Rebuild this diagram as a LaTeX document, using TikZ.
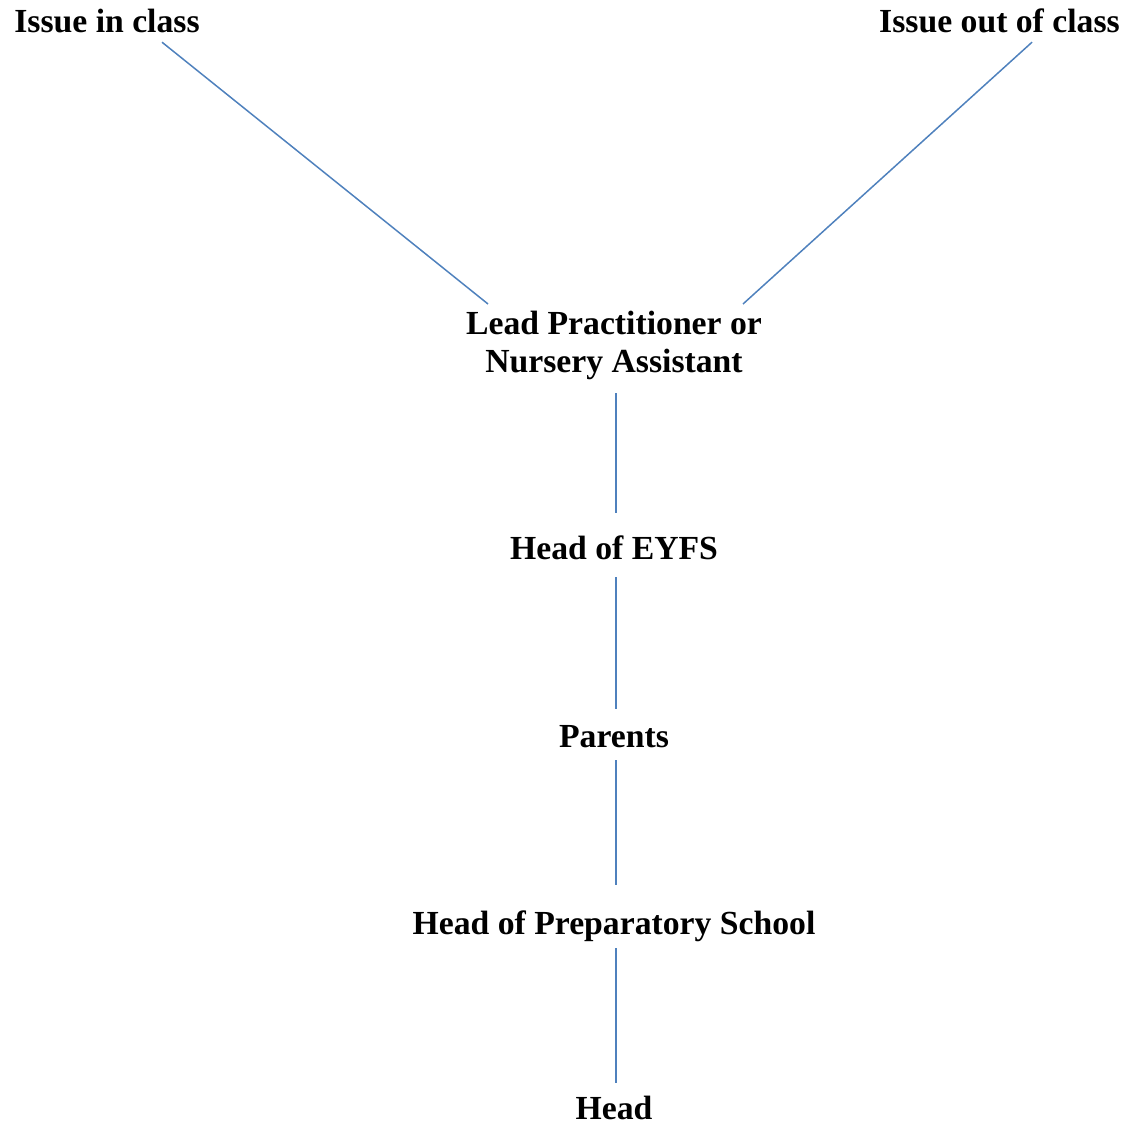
\documentclass[tikz,border=0pt]{standalone}
\usepackage{fontspec}
\setmainfont{Liberation Serif}
\usepackage{tikz}
\usetikzlibrary{positioning}
\definecolor{linkblue}{RGB}{79,129,189}
\tikzset{
  step label/.style={font=\fontsize{33.7}{38}\selectfont\bfseries, inner sep=0pt, anchor=base, text height=23pt, text depth=8pt},
  link/.style={draw=linkblue, line width=1.5pt}
}

\begin{document}
\begin{tikzpicture}[x=1pt,y=-1pt]
\useasboundingbox (0,0) rectangle (1129,1126);
% top row
\node[step label] (inclass) at (107,33) {Issue in class};
\node[step label] (outclass) at (999.5,33) {Issue out of class};
% chain
\node[step label, align=center, anchor=north, text height=, text depth=] (lead) at (614,311) {Lead Practitioner or\\Nursery Assistant};
\node[step label] (eyfs) at (614,559) {Head of EYFS};
\node[step label] (parents) at (614,747) {Parents};
\node[step label] (prep) at (614,934) {Head of Preparatory School};
\node[step label, text depth=2pt] (head) at (614,1119) {Head};
% connectors
\draw[link] ([xshift=55pt,yshift=-1pt]inclass.south) -- ([xshift=-126pt,yshift=7pt]lead.north);
\draw[link] ([xshift=32.5pt,yshift=-1pt]outclass.south) -- ([xshift=129pt,yshift=7pt]lead.north);
\draw[link] ([xshift=2pt,yshift=-13pt]lead.south) -- ([xshift=2pt,yshift=23pt]eyfs.north);
\draw[link] ([xshift=2pt,yshift=-10pt]eyfs.south) -- ([xshift=2pt,yshift=15pt]parents.north);
\draw[link] ([xshift=2pt,yshift=-5pt]parents.south) -- ([xshift=2pt,yshift=26pt]prep.north);
\draw[link] ([xshift=2pt,yshift=-6pt]prep.south) -- ([xshift=2pt,yshift=13pt]head.north);
\end{tikzpicture}
\end{document}
